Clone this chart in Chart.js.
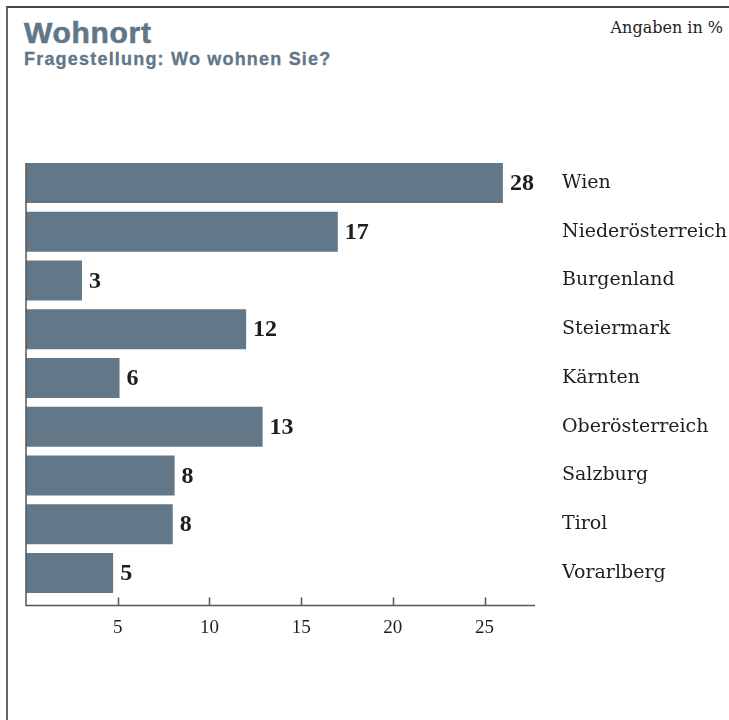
<!DOCTYPE html>
<html lang="de">
<head>
<meta charset="utf-8">
<title>Wohnort</title>
<script src="https://cdn.jsdelivr.net/npm/chart.js@4.4.1/dist/chart.umd.min.js"></script>
<style>
	html, body { margin: 0; padding: 0; background: #fff; }
	#wrap { position: relative; width: 729px; height: 720px; overflow: hidden; }
	#frame { position: absolute; left: 6px; top: 6px; right: -4px; bottom: -4px; border-left: 2px solid #666; border-top: 2px solid #444; }
	#title { position: absolute; left: 24px; top: 18px; font: bold 30px/30px "Liberation Sans", Arial, sans-serif; letter-spacing: 0.7px; color: #5f7788; white-space: nowrap; -webkit-text-stroke: 0.6px #5f7788; }
	#subtitle { position: absolute; left: 24px; top: 50px; font: bold 18px/18px "Liberation Sans", Arial, sans-serif; letter-spacing: 1.2px; color: #5f7788; white-space: nowrap; -webkit-text-stroke: 0.3px #5f7788; }
	#unit { position: absolute; right: 6px; top: 20px; font: 16px/16px "DejaVu Serif", serif; color: #222; white-space: nowrap; }
	canvas { position: absolute; left: 0; top: 0; }
</style>
</head>
<body>
<div id="wrap">
	<div id="frame"></div>
	<div id="title">Wohnort</div>
	<div id="subtitle">Fragestellung: Wo wohnen Sie?</div>
	<div id="unit">Angaben in %</div>
	<canvas id="chart-wohnort" width="729" height="720"></canvas>
</div>
<script>
// Data
const CATEGORIES = ["Wien", "Niederösterreich", "Burgenland", "Steiermark", "Kärnten", "Oberösterreich", "Salzburg", "Tirol", "Vorarlberg"];
const BAR_VALUES = [26, 17, 3.05, 12, 5.1, 12.9, 8.1, 8, 4.75];
const VALUE_LABELS = ["28", "17", "3", "12", "6", "13", "8", "8", "5"];
const X_TICKS = [5, 10, 15, 20, 25];
const X_MAX = 27.75;

const BAR_COLOR = "#627888";
const AXIS_COLOR = "#555";
const TEXT_COLOR = "#1e1e1e";

// Axis lines with inward ticks + value labels next to bars
const axisAndLabels = {
	id: "axisAndLabels",
	afterDatasetsDraw(chart) {
		const { ctx, chartArea, scales: { x } } = chart;
		const bars = chart.getDatasetMeta(0).data;
		const top = bars[0].y - bars[0].height / 2;
		const axisY = chartArea.bottom + 8;

		ctx.save();
		ctx.strokeStyle = AXIS_COLOR;
		ctx.lineWidth = 1.5;
		ctx.beginPath();
		ctx.moveTo(chartArea.left, top);
		ctx.lineTo(chartArea.left, axisY);
		ctx.lineTo(chartArea.right, axisY);
		X_TICKS.forEach((v) => {
			const px = Math.round(x.getPixelForValue(v)) + 0.5;
			ctx.moveTo(px, axisY);
			ctx.lineTo(px, axisY - 8);
		});
		ctx.stroke();

		ctx.fillStyle = TEXT_COLOR;
		ctx.font = "bold 24px 'Liberation Serif', serif";
		ctx.textBaseline = "middle";
		ctx.textAlign = "left";
		bars.forEach((bar, i) => {
			ctx.fillText(VALUE_LABELS[i], bar.x + 7, bar.y + 1);
		});
		ctx.restore();
	},
};

const CHART_CONFIG = {
	type: "bar",
	data: {
		labels: CATEGORIES,
		datasets: [
			{
				data: BAR_VALUES,
				backgroundColor: BAR_COLOR,
				borderWidth: 0,
				barPercentage: 0.82,
				categoryPercentage: 1,
			},
		],
	},
	options: {
		indexAxis: "y",
		responsive: false,
		animation: false,
		layout: {
			padding: { left: 26, top: 158.6, right: 0, bottom: 0 },
		},
		scales: {
			x: {
				min: 0,
				max: X_MAX,
				position: "bottom",
				border: { display: false },
				grid: { display: false, drawTicks: false },
				afterBuildTicks: (scale) => {
					scale.ticks = X_TICKS.map((v) => ({ value: v }));
				},
				afterFit: (scale) => {
					scale.height = 122.6;
				},
				ticks: {
					padding: 19,
					autoSkip: false,
					maxRotation: 0,
					color: TEXT_COLOR,
					font: { family: "'Liberation Serif', serif", size: 19 },
				},
			},
			y: {
				position: "right",
				border: { display: false },
				grid: { display: false, drawTicks: false },
				afterFit: (scale) => {
					scale.width = 194;
				},
				ticks: {
					padding: 27,
					autoSkip: false,
					color: TEXT_COLOR,
					font: { family: "'DejaVu Serif', serif", size: 19 },
				},
			},
		},
		plugins: {
			legend: { display: false },
			tooltip: { enabled: false },
		},
	},
	plugins: [axisAndLabels],
};

const CHART_WRAPPER = document.getElementById("chart-wohnort");
if (CHART_WRAPPER) {
	new Chart(CHART_WRAPPER, CHART_CONFIG);
}
</script>
</body>
</html>
